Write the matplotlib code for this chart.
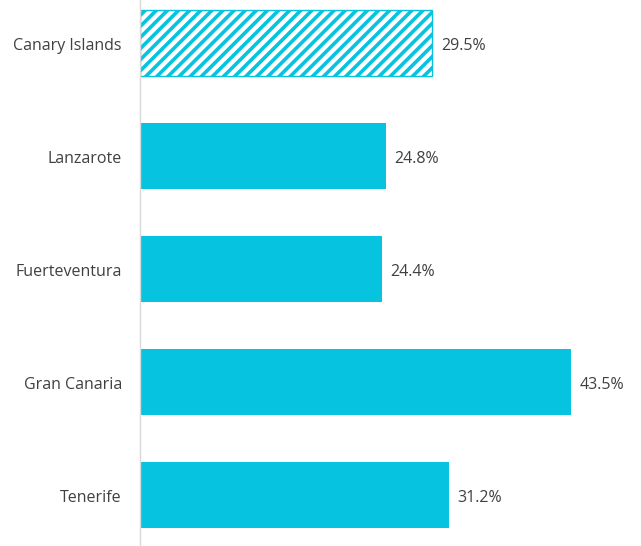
import matplotlib.pyplot as plt
import matplotlib as mpl

regions = ['Tenerife', 'Gran Canaria', 'Fuerteventura', 'Lanzarote', 'Canary Islands']
values = [31.2, 43.5, 24.4, 24.8, 29.5]

cyan = '#06C3E0'
text_col = '#404040'

mpl.rcParams['font.family'] = ['Open Sans', 'DejaVu Sans']
mpl.rcParams['hatch.color'] = cyan
mpl.rcParams['hatch.linewidth'] = 2.6

fig = plt.figure(figsize=(6.41, 5.46), dpi=100)
ax = fig.add_axes([140 / 641, 0, 501 / 641, 1])

pos = list(range(len(regions)))
bars = ax.barh(pos, values, height=0.584, color=cyan)
# the total bar is hatched
total = bars[-1]
total.set_facecolor('white')
total.set_edgecolor(cyan)
total.set_hatch('///')
total.set_linewidth(1.0)

for p, v in zip(pos, values):
    ax.text(v + 0.9, p - 0.025, f'{v}%', va='center', ha='left', fontsize=11.5, color=text_col)

ax.set_xlim(0, 501 / 9.9)
ax.set_ylim(-0.451, 4.381)
ax.set_yticks([p - 0.01 for p in pos])
ax.set_yticklabels(regions, fontsize=11.5, color=text_col)
ax.tick_params(axis='y', length=0, pad=13)
ax.set_xticks([])
for s in ['top', 'right', 'bottom']:
    ax.spines[s].set_visible(False)
ax.spines['left'].set_color('#D9D9D9')
ax.spines['left'].set_linewidth(1.0)

fig.savefig('out.png', dpi=100)
